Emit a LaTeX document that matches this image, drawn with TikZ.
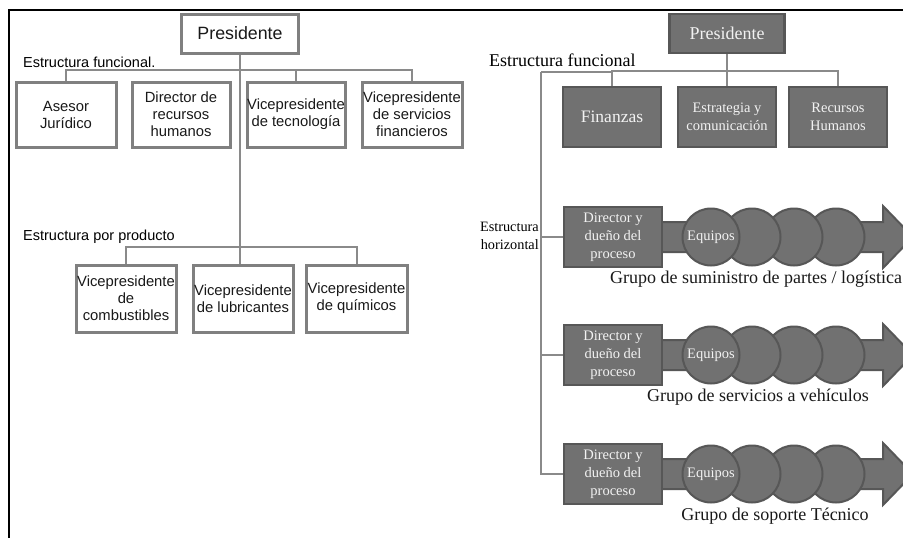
\documentclass[tikz,border=0pt]{standalone}
\usepackage{fontspec}
\setmainfont{Liberation Serif}
\newfontfamily\arialf{Liberation Sans}
\usetikzlibrary{calc}

\definecolor{boxedge}{HTML}{808080}
\definecolor{lineg}{HTML}{8A8A8A}
\definecolor{darkfill}{HTML}{717171}
\definecolor{darkedge}{HTML}{575757}
\definecolor{paletext}{HTML}{F2F2F2}

\tikzset{
  lbox/.style={draw=boxedge, line width=3pt, fill=white, inner sep=0pt,
    align=center, text=black!90, font=\arialf\fontsize{14.8}{17}\selectfont},
  rbox/.style={draw=darkedge, line width=2.5pt, fill=darkfill, inner sep=0pt,
    align=center, text=paletext, font=\fontsize{14.5}{17.8}\selectfont},
  lconn/.style={draw=lineg, line width=2pt},
  rconn/.style={draw=lineg, line width=2pt},
  band/.style={fill=darkfill, draw=darkedge, line width=2pt, line join=miter},
  bead/.style={circle, fill=darkfill, draw=darkedge, line width=2pt,
    minimum size=57pt, inner sep=0pt, text=paletext,
    font=\fontsize{14.5}{17}\selectfont},
  lbl/.style={inner sep=0pt, text=black},
  grp/.style={inner sep=0pt, text=black!90, font=\fontsize{18}{20}\selectfont}
}

\begin{document}
\begin{tikzpicture}[x=1pt, y=-1pt]
\clip (0,0) rectangle (903,538);
\fill[white] (0,0) rectangle (903,538);

% outer frame (top and left edges)
\draw[black, line width=2pt] (9,538) -- (9,10) -- (903,10);

% ---------------- functional / product structure ----------------
\node[lbox, minimum width=117pt, minimum height=39pt,
      font=\arialf\fontsize{17.8}{20}\selectfont] (lpres) at (240,33.5) {Presidente};
\node[lbl, anchor=west, font=\arialf\fontsize{14.5}{17}\selectfont] (lfun) at (23,62) {Estructura funcional.};

\node[lbox, minimum width=100pt, minimum height=65pt] (asesor) at (66,114.5) {Asesor\\Jurídico};
\node[lbox, minimum width=98pt, minimum height=65pt] (dirrh) at (181,114.5) {Director de\\recursos\\humanos};
\node[lbox, minimum width=98pt, minimum height=65pt] (vtec) at (296,114.5) {Vicepresidente\\de tecnología};
\node[lbox, minimum width=100pt, minimum height=65pt] (vfin) at (412,114.5) {Vicepresidente\\de servicios\\financieros};

\node[lbl, anchor=west, font=\arialf\fontsize{14.5}{17}\selectfont] (lprod) at (23,237) {Estructura por producto};

\node[lbox, minimum width=100pt, minimum height=67pt] (vcomb) at (126,298.5) {Vicepresidente\\de\\combustibles};
\node[lbox, minimum width=100pt, minimum height=67pt] (vlub) at (243,298.5) {Vicepresidente\\de lubricantes};
\node[lbox, minimum width=101pt, minimum height=67pt] (vquim) at (356.5,298.5) {Vicepresidente\\de químicos};

% connectors
\draw[lconn] (asesor.north) -- ++(0,-11) -| (vfin.north);
\draw[lconn] (vtec.north) -- ++(0,-11);
\draw[lconn] (vcomb.north) -- ++(0,-17) -| (vquim.north);
\draw[lconn] (lpres.south) -- (lpres.south |- vlub.north);

% ---------------- horizontal structure ----------------
\node[rbox, minimum width=115pt, minimum height=39pt,
      font=\fontsize{18}{20}\selectfont] (rpres) at (727,33.5) {Presidente};
\node[lbl, anchor=west, font=\fontsize{18}{20}\selectfont] (rfun) at (489,60) {Estructura funcional};

\node[rbox, minimum width=98pt, minimum height=60pt,
      font=\fontsize{17.5}{20}\selectfont] (fin) at (612,117) {Finanzas};
\node[rbox, minimum width=98pt, minimum height=60pt] (estr) at (727,117) {Estrategia y\\comunicación};
\node[rbox, minimum width=98pt, minimum height=60pt] (rrhh) at (838,117) {Recursos\\Humanos};

\coordinate (busL) at (541,72);
\draw[rconn] (rpres.south) -- (rpres.south |- estr.north);
\draw[rconn] (fin.north) -- ++(0,-15) -| (rrhh.north);
\draw[rconn] (fin.north |- busL) -- (busL);

\node[lbl, anchor=east, align=right, font=\fontsize{14.3}{17.5}\selectfont] (rhor) at (539,236) {Estructura\\horizontal};

% process rows: arrow band, beads, owner box, caption
\foreach \r/\yy/\cx/\cap in {1/237/756/{Grupo de suministro de partes / logística},
                             2/355/758/{Grupo de servicios a vehículos},
                             3/474/775/{Grupo de soporte Técnico}} {
  \draw[band] (650,\yy-15) -- (883,\yy-15) -- (883,\yy-31) -- (913,\yy)
              -- (883,\yy+31) -- (883,\yy+15) -- (650,\yy+15) -- cycle;
  \node[bead] (b4-\r) at (836,\yy) {};
  \node[bead] (b3-\r) at (794,\yy) {};
  \node[bead] (b2-\r) at (752,\yy) {};
  \node[bead] (b1-\r) at (711,\yy) {Equipos};
  \node[rbox, minimum width=98pt, minimum height=60pt] (dir-\r) at (613,\yy)
       {Director y\\dueño del\\proceso};
  \node[grp] (cap-\r) at (\cx,\yy+42) {\cap};
}

\draw[rconn] (busL) |- (dir-3.west);
\draw[rconn] (busL |- dir-1.west) -- (dir-1.west);
\draw[rconn] (busL |- dir-2.west) -- (dir-2.west);
\end{tikzpicture}
\end{document}
